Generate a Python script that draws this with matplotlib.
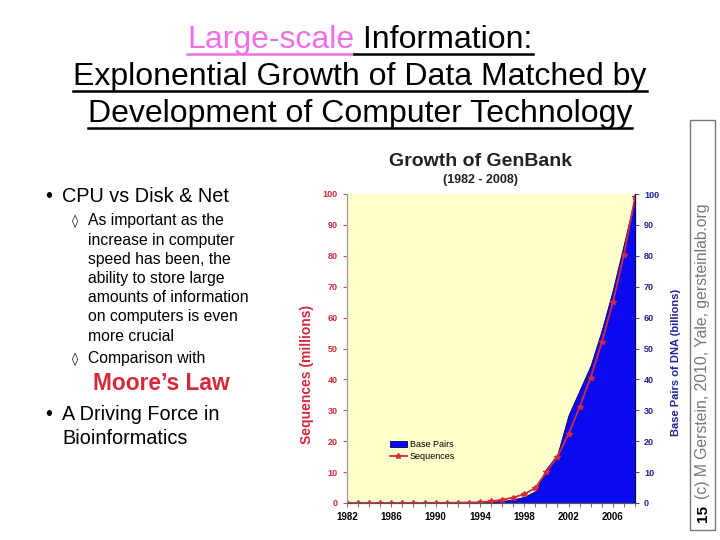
import numpy as np
import matplotlib
matplotlib.use("Agg")
import matplotlib.pyplot as plt
from matplotlib.patches import Rectangle
from matplotlib.lines import Line2D

plt.rcParams["font.family"] = ["Liberation Sans", "DejaVu Sans"]

# Daten
years = np.arange(1982, 2009)
sequences = [0.0006, 0.0024, 0.0042, 0.0057, 0.0097, 0.015, 0.020, 0.029, 0.039,
             0.055, 0.079, 0.14, 0.22, 0.55, 1.02, 1.77, 2.84, 4.86, 10.1, 15.0,
             22.3, 31.1, 40.6, 52.0, 64.9, 80.4, 98.9]
base_pairs = [0.0007, 0.002, 0.004, 0.005, 0.009, 0.015, 0.024, 0.034, 0.049,
              0.072, 0.101, 0.157, 0.217, 0.384, 0.652, 1.16, 2.0, 3.84, 11.1, 15.8,
              28.5, 36.5, 44.6, 56.0, 69.0, 83.9, 99.1]
year_ticks = [1982, 1986, 1990, 1994, 1998, 2002, 2006]

title_lines = ["Explonential Growth of Data Matched by",
               "Development of Computer Technology"]
sub_points = ["As important as the", "increase in computer", "speed has been, the",
              "ability to store large", "amounts of information", "on computers is even",
              "more crucial"]

RED = "#d42a3c"
NAVY = "#22229a"
BLUE = "#0a0af0"
PINK = "#ee6fe8"

fig = plt.figure(figsize=(7.2, 5.4), dpi=100)
W, H = 720, 540


def fx(px):
    return px / W


def fy(py):
    return 1 - py / H


renderer = fig.canvas.get_renderer()


def underline(t, color):
    bb = t.get_window_extent(renderer=renderer)
    y = bb.y0 + 1.5
    fig.add_artist(Line2D([bb.x0 / W, bb.x1 / W], [y / H, y / H],
                          transform=fig.transFigure, color=color, lw=1.8))


# Folientitel
fs_title = 23
t1 = fig.text(0, fy(40), "Large-scale", fontsize=fs_title, color=PINK, va="center")
t2 = fig.text(0, fy(40), " Information:", fontsize=fs_title, color="black", va="center")
w1 = t1.get_window_extent(renderer=renderer).width
w2 = t2.get_window_extent(renderer=renderer).width
x0 = 360 - (w1 + w2) / 2
t1.set_x(x0 / W)
t2.set_x((x0 + w1) / W)
underline(t1, PINK)
underline(t2, "black")
for i, line in enumerate(title_lines):
    t = fig.text(fx(360), fy(77 + 37 * i), line, fontsize=fs_title, ha="center", va="center")
    underline(t, "black")

# Aufzählung links
fs_main = 14.3
fs_sub = 11.3
fig.text(fx(45), fy(196), "•", fontsize=fs_main, va="center")
fig.text(fx(62), fy(196), "CPU vs Disk & Net", fontsize=fs_main, va="center")
fig.text(fx(72), fy(221), "◊", fontsize=9, va="center", family="DejaVu Sans")
for i, line in enumerate(sub_points):
    fig.text(fx(88), fy(221 + 19.2 * i), line, fontsize=fs_sub, va="center")
fig.text(fx(72), fy(359), "◊", fontsize=9, va="center", family="DejaVu Sans")
fig.text(fx(88), fy(359), "Comparison with", fontsize=fs_sub, va="center")
fig.text(fx(93), fy(384), "Moore’s Law", fontsize=16.4, fontweight="bold", color=RED,
         va="center")
fig.text(fx(45), fy(415), "•", fontsize=fs_main, va="center")
fig.text(fx(62), fy(415), "A Driving Force in", fontsize=fs_main, va="center")
fig.text(fx(62), fy(439), "Bioinformatics", fontsize=fs_main, va="center")

# Diagramm
ax_r = fig.add_axes([fx(347), fy(503), fx(635) - fx(347), fy(194) - fy(503)])
ax_r.set_facecolor("#ffffcc")
ax_r.fill_between(years, base_pairs, 0, color=BLUE, edgecolor="#000060", lw=0.6,
                  label="Base Pairs")
ax_l = ax_r.twinx()
ax_r.yaxis.tick_right()
ax_r.yaxis.set_label_position("right")
ax_l.yaxis.tick_left()
ax_l.yaxis.set_label_position("left")
ax_l.plot(years, sequences, color=RED, lw=1.3, marker="*", ms=4, label="Sequences")

for ax in (ax_l, ax_r):
    ax.set_xlim(1982, 2008)
    ax.set_ylim(0, 100)
    ax.set_yticks(range(0, 101, 10))
    ax.spines["top"].set_visible(False)
    ax.spines["left"].set_color("#999999")
    ax.spines["right"].set_color("#000060")
    ax.spines["bottom"].set_color("#555555")

ax_r.set_xticks(year_ticks)
ax_r.set_xticks(years, minor=True)
ax_r.tick_params(axis="x", which="both", length=3, width=0.6, colors="#555555",
                 labelsize=7, labelcolor="black")
for lbl in ax_r.get_xticklabels():
    lbl.set_fontweight("bold")
ax_r.tick_params(axis="y", length=3, width=0.6, colors=NAVY, labelsize=6.5)
ax_l.tick_params(axis="y", length=3, width=0.6, colors=RED, labelsize=6.5)
for lbl in ax_r.get_yticklabels() + ax_l.get_yticklabels():
    lbl.set_fontweight("bold")

fig.text(fx(307), fy(374), "Sequences (millions)", rotation=90, color=RED, fontsize=10,
         fontweight="bold", ha="center", va="center")
fig.text(fx(676), fy(362), "Base Pairs of DNA (billions)", rotation=90, color=NAVY,
         fontsize=8, fontweight="bold", ha="center", va="center")

handles = [ax_r.collections[0], ax_l.lines[0]]
ax_l.legend(handles=handles, labels=["Base Pairs", "Sequences"], loc="lower left",
            bbox_to_anchor=(0.12, 0.11), frameon=False, fontsize=6.5,
            handlelength=1.9, handleheight=0.5, handletextpad=0.3, labelspacing=0.3)

fig.text(fx(481), fy(161), "Growth of GenBank", fontsize=14, fontweight="bold",
         ha="center", va="center", color="#222222")
fig.text(fx(481), fy(180), "(1982 - 2008)", fontsize=9, fontweight="bold",
         ha="center", va="center", color="#222222")

# Seitenleiste rechts
fig.add_artist(Rectangle((fx(690), fy(530)), fx(715) - fx(690), fy(120) - fy(530),
                         transform=fig.transFigure, fill=False, ec="#777777", lw=1))
fig.text(fx(703), fy(513), "15", rotation=90, fontsize=11, fontweight="bold",
         ha="center", va="center")
fig.text(fx(703), fy(499), "(c) M Gerstein, 2010, Yale, gersteinlab.org", rotation=90,
         fontsize=11.3, color="#777777", ha="center", va="bottom")

fig.savefig("out.png", dpi=100)
